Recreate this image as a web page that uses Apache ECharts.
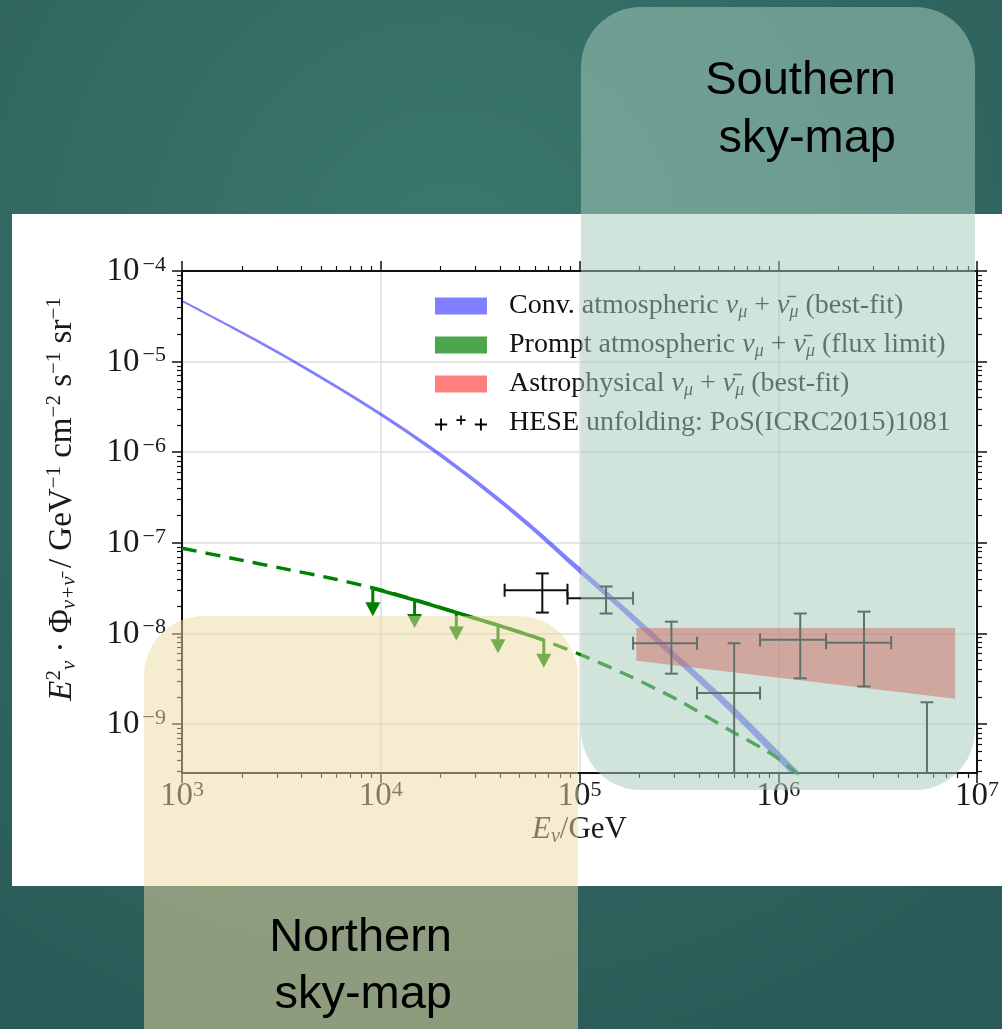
<!DOCTYPE html>
<html><head><meta charset="utf-8">
<script src="https://cdn.jsdelivr.net/npm/echarts@6/dist/echarts.min.js"></script>
<style>html,body{margin:0;padding:0;width:1002px;height:1029px;overflow:hidden;background:#2e615c}#c{width:1002px;height:1029px}</style>
</head><body><div id="c"></div>
<script>
// ---------------- data ----------------
const xTickExponents = [3, 4, 5, 6, 7];
const yTickExponents = [-9, -8, -7, -6, -5, -4];

// conventional atmospheric band (E in GeV, E^2 Phi lower / upper)
const convE  = [1e3, 1.78e3, 3.16e3, 5.62e3, 1e4, 1.78e4, 3.16e4, 5.62e4, 1e5, 1.78e5, 3.16e5, 5.62e5, 1e6, 1.58e6];
const convLo = [4.54e-5, 2.32e-5, 1.16e-5, 5.52e-6, 2.51e-6, 1.06e-6, 4.11e-7, 1.45e-7, 4.62e-8, 1.48e-8, 4.62e-9, 1.41e-9, 3.93e-10, 1.38e-10];
const convHi = [4.82e-5, 2.48e-5, 1.25e-5, 6.00e-6, 2.75e-6, 1.18e-6, 4.63e-7, 1.66e-7, 5.43e-8, 1.78e-8, 5.69e-9, 1.78e-9, 5.08e-10, 1.82e-10];

// prompt atmospheric (dashed model line)
const promptE    = [1e3, 1.78e3, 3.16e3, 5.62e3, 1e4, 1.78e4, 3.16e4, 5.62e4, 1e5, 1.78e5, 3.16e5, 5.62e5, 1e6, 1.58e6];
const promptFlux = [8.71e-8, 6.76e-8, 5.25e-8, 4.07e-8, 3.02e-8, 2.09e-8, 1.41e-8, 9.55e-9, 5.89e-9, 3.39e-9, 1.82e-9, 8.71e-10, 4.17e-10, 1.78e-10];

// prompt flux limit (solid segment with down arrows)
const promptLimE    = [9.12e3, 1.48e4, 2.40e4, 3.89e4, 6.61e4];
const promptLimFlux = [3.16e-8, 2.34e-8, 1.70e-8, 1.23e-8, 8.5e-9];

// astrophysical band
const astroE  = [1.93e5, 7.76e6];
const astroLo = [5.0e-9, 1.9e-9];
const astroHi = [1.15e-8, 1.15e-8];

// HESE unfolding points
const heseE      = [6.5e4, 1.36e5, 2.9e5, 6.0e5, 1.29e6, 2.7e6, 5.6e6];
const heseELo    = [4.2e4, 8.7e4, 1.86e5, 3.9e5, 8.1e5, 1.74e6, 5.6e6];
const heseEHi    = [8.7e4, 1.86e5, 3.9e5, 8.1e5, 1.74e6, 3.7e6, 5.6e6];
const heseFlux   = [3.0e-8, 2.45e-8, 7.8e-9, 2.2e-9, 8.5e-9, 7.9e-9, 1e-10];
const heseFluxLo = [1.7e-8, 1.66e-8, 3.6e-9, 1e-10, 3.2e-9, 2.6e-9, 1e-10];
const heseFluxHi = [4.6e-8, 3.3e-8, 1.35e-8, 7.8e-9, 1.66e-8, 1.74e-8, 1.74e-9];

// ---------------- chart ----------------
const L = Math.log10;
const X_MIN = 3, X_MAX = 7, Y_MIN = -9.54, Y_MAX = -4;
const SERIF = '"Liberation Serif", "DejaVu Serif", serif';
const SANS = '"Liberation Sans", Arial, sans-serif';
const INK = '#1a1a1a';

const minorX = [];
for (let n = X_MIN; n < X_MAX; n++) for (let k = 2; k < 10; k++) minorX.push(n + L(k));
const minorY = [];
for (let n = -10; n < Y_MAX; n++) for (let k = 2; k < 10; k++) { const v = n + L(k); if (v > Y_MIN && v < Y_MAX) minorY.push(v); }

function tickRich(isX) {
  return {
    b: { fontFamily: SERIF, fontSize: 33, color: INK, lineHeight: 34, padding: [9, 0, 0, 0], verticalAlign: 'bottom' },
    s: { fontFamily: SERIF, fontSize: 22, color: INK, lineHeight: 22, verticalAlign: 'top', padding: isX ? 0 : [0, 0, 0, 3] }
  };
}

function majorAxis(pos, isX, labels) {
  return {
    type: 'value', position: pos, min: isX ? X_MIN : Y_MIN, max: isX ? X_MAX : Y_MAX,
    axisLine: { show: true, onZero: false, lineStyle: { color: '#111', width: 2 } },
    axisTick: { show: true, inside: false, length: 10, customValues: isX ? xTickExponents : yTickExponents, lineStyle: { color: '#111', width: 1.5 } },
    axisLabel: { show: labels, customValues: isX ? xTickExponents : yTickExponents, margin: isX ? 6 : 16,
      formatter: v => '{b|10}{s|' + (v < 0 ? '\u2212' + Math.round(-v) : Math.round(v)) + '}', rich: tickRich(isX) },
    splitLine: { show: labels, lineStyle: { color: '#dedede', width: 1.5 } }
  };
}
function minorAxis(pos, isX) {
  return {
    type: 'value', position: pos, min: isX ? X_MIN : Y_MIN, max: isX ? X_MAX : Y_MAX,
    axisLine: { show: false },
    axisTick: { show: true, inside: false, length: 5, customValues: isX ? minorX : minorY, lineStyle: { color: '#111', width: 1.2 } },
    axisLabel: { show: false }, splitLine: { show: false }
  };
}

const xAxes = [majorAxis('bottom', true, true), minorAxis('bottom', true), majorAxis('top', true, false), minorAxis('top', true)];
xAxes[0].name = '{i|E}{sub|\u03bd}{t|/GeV}';
xAxes[0].nameLocation = 'middle';
xAxes[0].nameGap = 40;
xAxes[0].nameTextStyle = { rich: {
  i: { fontFamily: SERIF, fontStyle: 'italic', fontSize: 31, color: INK, lineHeight: 34 },
  sub: { fontFamily: SERIF, fontStyle: 'italic', fontSize: 20, color: INK, lineHeight: 18, verticalAlign: 'bottom' },
  t: { fontFamily: SERIF, fontSize: 31, color: INK, lineHeight: 34 } } };

const yAxes = [majorAxis('left', false, true), minorAxis('left', false), majorAxis('right', false, false), minorAxis('right', false)];
yAxes[0].name = '{i|E}{sup|2}{sub|\u03bd}{t| \u00b7 \u03a6}{sub|\u03bd+\u03bd\u0304}{t| / GeV}{sup|\u22121}{t| cm}{sup|\u22122}{t| s}{sup|\u22121}{t| sr}{sup|\u22121}';
yAxes[0].nameLocation = 'middle';
yAxes[0].nameRotate = 90;
yAxes[0].nameGap = 102;
yAxes[0].nameTextStyle = { padding: [0, 0, 0, 46], rich: {
  i: { fontFamily: SERIF, fontStyle: 'italic', fontSize: 33, color: INK, lineHeight: 36 },
  t: { fontFamily: SERIF, fontSize: 33, color: INK, lineHeight: 36 },
  sub: { fontFamily: SERIF, fontStyle: 'italic', fontSize: 21, color: INK, lineHeight: 18, verticalAlign: 'bottom' },
  sup: { fontFamily: SERIF, fontSize: 21, color: INK, lineHeight: 18, verticalAlign: 'top' } } };

const legRich = {
  sp: { width: 17 },
  t: { fontFamily: SERIF, fontSize: 28, color: '#111', lineHeight: 30 },
  i: { fontFamily: SERIF, fontStyle: 'italic', fontSize: 28, color: '#111', lineHeight: 30 },
  s: { fontFamily: SERIF, fontStyle: 'italic', fontSize: 18, color: '#111', lineHeight: 14, verticalAlign: 'bottom' }
};
const nuPair = '{i|\u03bd}{s|\u03bc}{t| + }{i|\u03bd\u0304}{s|\u03bc}';
const legendText = {
  Conv: '{sp| }{t|Conv. atmospheric }' + nuPair + '{t| (best-fit)}',
  Prompt: '{sp| }{t|Prompt atmospheric }' + nuPair + '{t| (flux limit)}',
  Astro: '{sp| }{t|Astrophysical }' + nuPair + '{t| (best-fit)}',
  HESE: '{sp| }{t|HESE unfolding: PoS(ICRC2015)1081}'
};

function plus(cx, cy, a, t) {
  return 'M' + (cx - a) + ',' + (cy - t / 2) + 'h' + (2 * a) + 'v' + t + 'h' + (-2 * a) + 'z' +
         'M' + (cx - t / 2) + ',' + (cy - a) + 'h' + t + 'v' + (2 * a) + 'h' + (-t) + 'z';
}
const plusIcon = 'path://' + plus(6, 10, 5.5, 1.7) + plus(24, 6, 4.2, 1.5) + plus(42, 10, 5.5, 1.7);

const BLUE = 'rgba(0,0,255,0.5)', GREEN = '#008000', GREEN_A = 'rgba(0,128,0,0.7)', RED = 'rgba(255,0,0,0.5)';

// filled band between lower and upper curves, drawn through the cartesian scales
function bandSeries(name, E, lo, hi, color, smooth) {
  return {
    name, type: 'custom', silent: true, z: 2, itemStyle: { color },
    dimensions: ['x', 'lo', 'hi'], encode: { x: 0, y: [1, 2] },
    data: E.map((e, i) => [L(e), L(lo[i]), L(hi[i])]),
    renderItem: (params, api) => {
      if (params.dataIndex !== 0) return null;
      const n = params.dataInsideLength;
      const top = [], bot = [];
      for (let j = 0; j < n; j++) top.push(api.coord([api.value(0, j), api.value(2, j)]));
      for (let j = n - 1; j >= 0; j--) bot.push(api.coord([api.value(0, j), api.value(1, j)]));
      const cs = params.coordSys;
      const children = [];
      if (smooth) {
        // smooth outline: upper edge forward, lower edge backward
        const seg = (pts) => {
          let d = '';
          for (let k = 0; k < pts.length - 1; k++) {
            const p0 = pts[Math.max(k - 1, 0)], p1 = pts[k], p2 = pts[k + 1], p3 = pts[Math.min(k + 2, pts.length - 1)];
            const c1 = [p1[0] + (p2[0] - p0[0]) / 6, p1[1] + (p2[1] - p0[1]) / 6];
            const c2 = [p2[0] - (p3[0] - p1[0]) / 6, p2[1] - (p3[1] - p1[1]) / 6];
            d += 'C' + c1[0] + ',' + c1[1] + ' ' + c2[0] + ',' + c2[1] + ' ' + p2[0] + ',' + p2[1];
          }
          return d;
        };
        const path = 'M' + top[0][0] + ',' + top[0][1] + seg(top) + 'L' + bot[0][0] + ',' + bot[0][1] + seg(bot) + 'Z';
        children.push({ type: 'path', shape: { pathData: path }, style: { fill: color } });
      } else {
        children.push({ type: 'polygon', shape: { points: top.concat(bot) }, style: { fill: color } });
      }
      return { type: 'group', children,
               clipPath: { type: 'rect', shape: { x: cs.x, y: cs.y, width: cs.width, height: cs.height } } };
    }
  };
}

const option = {
  animation: false,
  grid: { left: 182, top: 271, width: 798, height: 502, containLabel: false },
  xAxis: xAxes,
  yAxis: yAxes,
  legend: {
    orient: 'vertical', left: 435, top: 292, padding: 0, itemGap: 10, itemWidth: 52, itemHeight: 17,
    selectedMode: false,
    data: [
      { name: 'Conv', icon: 'rect', itemStyle: { color: BLUE } },
      { name: 'Prompt', icon: 'rect', itemStyle: { color: GREEN_A } },
      { name: 'Astro', icon: 'rect', itemStyle: { color: RED } },
      { name: 'HESE', icon: plusIcon, itemStyle: { color: '#000' } }
    ],
    formatter: n => legendText[n],
    textStyle: { rich: legRich }
  },
  graphic: [
    { type: 'rect', z: -20, silent: true, shape: { x: 0, y: 0, width: 1002, height: 1029 },
      style: { fill: { type: 'radial', x: 0.45, y: 0.25, r: 0.85, colorStops: [{ offset: 0, color: '#3b786e' }, { offset: 1, color: '#2a5a57' }] } } },
    { type: 'rect', z: -10, silent: true, shape: { x: 12, y: 214, width: 990, height: 672 }, style: { fill: '#ffffff' } },
    { type: 'rect', z: 100, silent: true, shape: { x: 581, y: 7, width: 394, height: 783, r: 60 }, style: { fill: 'rgba(165,203,188,0.52)' } },
    { type: 'rect', z: 100, silent: true, shape: { x: 144, y: 616, width: 434, height: 480, r: 60 }, style: { fill: 'rgba(237,218,161,0.5)' } },
    { type: 'text', z: 101, silent: true, x: 896, y: 81, style: { text: 'Southern', font: '47px ' + SANS, fill: '#000', align: 'right', textAlign: 'right', verticalAlign: 'middle', textVerticalAlign: 'middle' } },
    { type: 'text', z: 101, silent: true, x: 896, y: 139, style: { text: 'sky-map', font: '47px ' + SANS, fill: '#000', align: 'right', textAlign: 'right', verticalAlign: 'middle', textVerticalAlign: 'middle' } },
    { type: 'text', z: 101, silent: true, x: 452, y: 938, style: { text: 'Northern', font: '47px ' + SANS, fill: '#000', align: 'right', textAlign: 'right', verticalAlign: 'middle', textVerticalAlign: 'middle' } },
    { type: 'text', z: 101, silent: true, x: 452, y: 995, style: { text: 'sky-map', font: '47px ' + SANS, fill: '#000', align: 'right', textAlign: 'right', verticalAlign: 'middle', textVerticalAlign: 'middle' } }
  ],
  series: [
    bandSeries('Conv', convE, convLo, convHi, BLUE, true),
    bandSeries('Astro', astroE, astroLo, astroHi, RED, false),
    { name: 'Prompt', type: 'line', symbol: 'none', silent: true, z: 3, smooth: 0.3,
      itemStyle: { color: GREEN_A }, lineStyle: { color: GREEN, width: 3.4, type: [15, 9] },
      data: promptE.map((e, i) => [L(e), L(promptFlux[i])]) },
    { name: '_promptLim', type: 'line', symbol: 'none', silent: true, z: 3,
      lineStyle: { color: GREEN, width: 3.6 },
      data: promptLimE.map((e, i) => [L(e), L(promptLimFlux[i])]) },
    { name: '_promptArrows', type: 'custom', silent: true, z: 3,
      data: promptLimE.map((e, i) => [L(e), L(promptLimFlux[i])]),
      renderItem: (params, api) => {
        const p = api.coord([api.value(0), api.value(1)]);
        const tip = p[1] + 28;
        return { type: 'group', children: [
          { type: 'line', shape: { x1: p[0], y1: p[1], x2: p[0], y2: tip - 10 }, style: { stroke: GREEN, lineWidth: 3 } },
          { type: 'polygon', shape: { points: [[p[0], tip], [p[0] - 7.5, tip - 14], [p[0] + 7.5, tip - 14]] }, style: { fill: GREEN } }
        ] };
      } },
    { name: 'HESE', type: 'custom', silent: true, z: 4,
      itemStyle: { color: '#000' },
      dimensions: ['x', 'y', 'x0', 'x1', 'y0', 'y1'],
      encode: { x: 0, y: 1 },
      data: heseE.map((e, i) => [L(e), L(heseFlux[i]), L(heseELo[i]), L(heseEHi[i]), L(heseFluxLo[i]), L(heseFluxHi[i])]),
      renderItem: (params, api) => {
        const x = api.value(0), y = api.value(1), x0 = api.value(2), x1 = api.value(3), y0 = api.value(4), y1 = api.value(5);
        const st = { stroke: '#111', lineWidth: 2 };
        const cap = 6.5;
        const ch = [];
        const yb = Math.max(y0, Y_MIN), yt = Math.min(y1, Y_MAX);
        const pb = api.coord([x, yb]), pt = api.coord([x, yt]);
        ch.push({ type: 'line', shape: { x1: pb[0], y1: pb[1], x2: pt[0], y2: pt[1] }, style: st });
        ch.push({ type: 'line', shape: { x1: pt[0] - cap, y1: pt[1], x2: pt[0] + cap, y2: pt[1] }, style: st });
        if (y0 >= Y_MIN) ch.push({ type: 'line', shape: { x1: pb[0] - cap, y1: pb[1], x2: pb[0] + cap, y2: pb[1] }, style: st });
        if (y >= Y_MIN && x1 > x0) {
          const pl = api.coord([x0, y]), pr = api.coord([x1, y]);
          ch.push({ type: 'line', shape: { x1: pl[0], y1: pl[1], x2: pr[0], y2: pr[1] }, style: st });
          ch.push({ type: 'line', shape: { x1: pl[0], y1: pl[1] - cap, x2: pl[0], y2: pl[1] + cap }, style: st });
          ch.push({ type: 'line', shape: { x1: pr[0], y1: pr[1] - cap, x2: pr[0], y2: pr[1] + cap }, style: st });
        }
        return { type: 'group', children: ch };
      } }
  ]
};

const chart = echarts.init(document.getElementById('c'), null, { renderer: 'canvas' });
chart.setOption(option);
</script>
</body></html>
